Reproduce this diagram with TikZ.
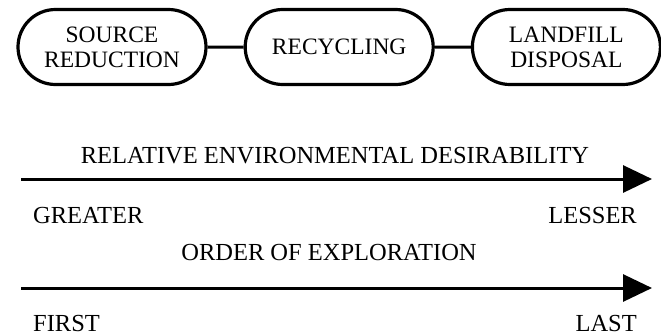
\documentclass[tikz,border=0pt]{standalone}
\usepackage{fontspec}
\setmainfont{Liberation Serif}
\usetikzlibrary{positioning,shapes.misc,arrows.meta}

\begin{document}
\begin{tikzpicture}
	[
		x=1pt, y=-1pt,
		every node/.style={font=\fontsize{23.5}{25}\selectfont},
		option/.style={rounded rectangle, draw, line width=3.2pt, minimum width=188pt, minimum height=75pt, align=center, inner sep=0pt},
		axis/.style={line width=3pt, -{Triangle[length=29pt,width=27pt]}},
		tag/.style={inner sep=0pt, font=\fontsize{24.5}{26}\selectfont}
	]
	\useasboundingbox (0,0) rectangle (661,335);

	\node(src) [option] at (112,47) {SOURCE\\REDUCTION};
	\node(rec) [option, right = 36pt of src] {RECYCLING};
	\node(lnd) [option, right = 36pt of rec] {LANDFILL\\DISPOSAL};
	\foreach \a/\b in {src/rec, rec/lnd}
		\draw[line width=3pt] (\a) -- (\b);

	\coordinate(des0) at (21,179);
	\coordinate(des1) at (652,179);
	\coordinate(exp0) at (21,288);
	\coordinate(exp1) at (652,288);
	\foreach \x in {des,exp}
		\draw[axis] (\x0) -- (\x1);

	\node(destitle) [tag, anchor=base] at (335,163) {RELATIVE ENVIRONMENTAL DESIRABILITY};
	\node(greater) [tag, anchor=base west] at (33,223) {GREATER};
	\node(lesser) [tag, anchor=base east] at (637,223) {LESSER};
	\node(exptitle) [tag, anchor=base] at (329,260) {ORDER OF EXPLORATION};
	\node(first) [tag, anchor=base west] at (33,331) {FIRST};
	\node(last) [tag, anchor=base east] at (637,331) {LAST};
\end{tikzpicture}
\end{document}
